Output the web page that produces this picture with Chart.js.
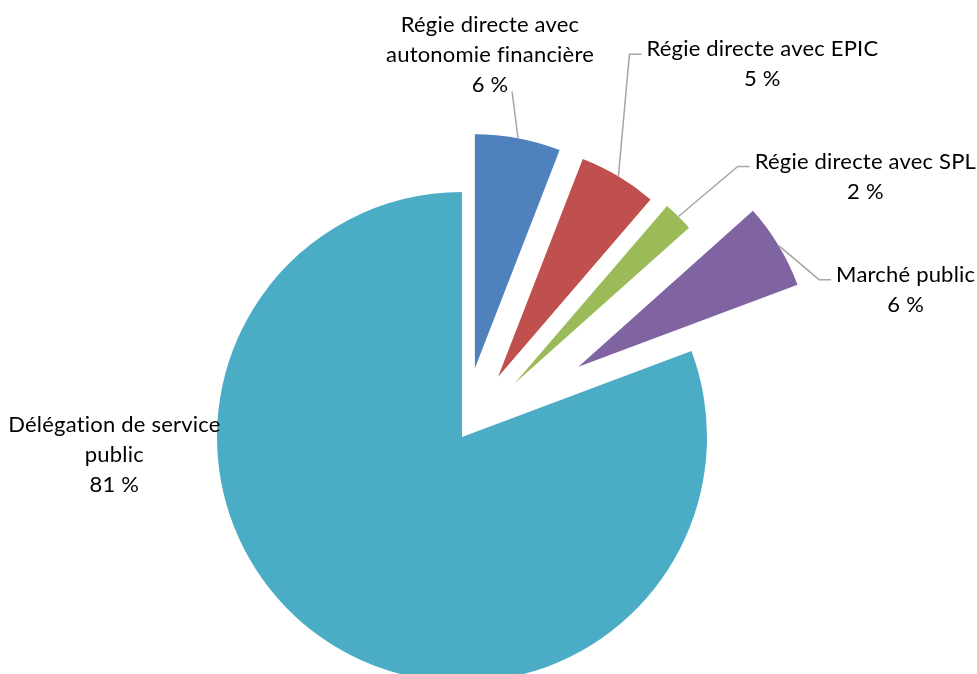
<!DOCTYPE html>
<html>
<head>
<meta charset="utf-8">
<script src="https://cdn.jsdelivr.net/npm/chart.js@4"></script>
<style>
  html, body { margin: 0; padding: 0; background: #fff; overflow: hidden; }
  #wrap { position: relative; width: 977px; height: 700px; }
</style>
</head>
<body>
<div id="wrap"><canvas id="pie"></canvas></div>
<script>
// categories (multi-line, as wrapped in the picture)
const categories = [
  ['Régie directe avec', 'autonomie financière'],
  ['Régie directe avec EPIC'],
  ['Régie directe avec SPL'],
  ['Marché public'],
  ['Délégation de service', 'public']
];
// shares in %
const shares = [5.9, 5.4, 2.1, 5.9, 80.7];
const colors = ['#4F81BD', '#C0504D', '#9BBB59', '#8064A2', '#4BACC6'];

// pull exploded slices out along their mid angle
const explodePlugin = {
  id: 'explode',
  afterDatasetsUpdate(chart, args, opts) {
    chart.getDatasetMeta(0).data.forEach((arc, i) => {
      const d = opts.distance[i] || 0;
      if (!d) return;
      const mid = (arc.startAngle + arc.endAngle) / 2;
      arc.x += Math.cos(mid) * d;
      arc.y += Math.sin(mid) * d;
      arc.outerRadius *= opts.shrink;
    });
  }
};

// text labels + gray leader lines
const labelPlugin = {
  id: 'sliceLabels',
  afterDatasetsDraw(chart, args, opts) {
    const ctx = chart.ctx;
    const data = chart.data.datasets[0].data;
    const total = data.reduce((a, b) => a + b, 0);
    ctx.save();
    ctx.font = opts.font;
    ctx.letterSpacing = opts.letterSpacing;
    ctx.textAlign = 'center';
    ctx.textBaseline = 'middle';
    chart.getDatasetMeta(0).data.forEach((arc, i) => {
      const p = opts.place[i];
      const mid = (arc.startAngle + arc.endAngle) / 2;
      const ax = arc.x + Math.cos(mid) * arc.outerRadius;
      const ay = arc.y + Math.sin(mid) * arc.outerRadius;
      const lines = [].concat(chart.data.labels[i], Math.round(data[i] / total * 100) + ' %');
      const cx = ax + p.dx, top = ay + p.dy;

      ctx.fillStyle = '#000';
      lines.forEach((t, k) => ctx.fillText(t, cx, top + k * opts.lineHeight));

      if (!p.leader) return;
      ctx.strokeStyle = '#A6A6A6';
      ctx.lineWidth = 1.5;
      ctx.beginPath();
      ctx.moveTo(ax, ay);
      if (p.leader === 'left') {
        const left = cx - ctx.measureText(lines[0]).width / 2;
        ctx.lineTo(left - 17, top + 5);
        ctx.lineTo(left - 5, top + 5);
      } else {
        ctx.lineTo(cx + p.leader.x, top + (lines.length - 1) * opts.lineHeight + p.leader.y);
      }
      ctx.stroke();
    });
    ctx.restore();
  }
};

new Chart(document.getElementById('pie'), {
  type: 'pie',
  data: {
    labels: categories,
    datasets: [{
      data: shares,
      backgroundColor: colors,
      borderWidth: 0
    }]
  },
  options: {
    responsive: true,
    maintainAspectRatio: false,
    animation: false,
    events: [],
    layout: { padding: { left: 217, right: 270, top: 192, bottom: 18 } },
    plugins: {
      legend: { display: false },
      tooltip: { enabled: false },
      explode: { distance: [70, 70, 75, 136, 0], shrink: 0.955 },
      sliceLabels: {
        font: '22px Lato',
        letterSpacing: '0.2px',
        lineHeight: 30,
        place: [
          { dx: -28, dy: -113, leader: { x: 22, y: 6 } },
          { dx: 144, dy: -127, leader: 'left' },
          { dx: 187, dy: -55, leader: 'left' },
          { dx: 127, dy: 29, leader: 'left' },
          { dx: -208, dy: -213, leader: null }
        ]
      }
    }
  },
  plugins: [explodePlugin, labelPlugin]
});
</script>
</body>
</html>
